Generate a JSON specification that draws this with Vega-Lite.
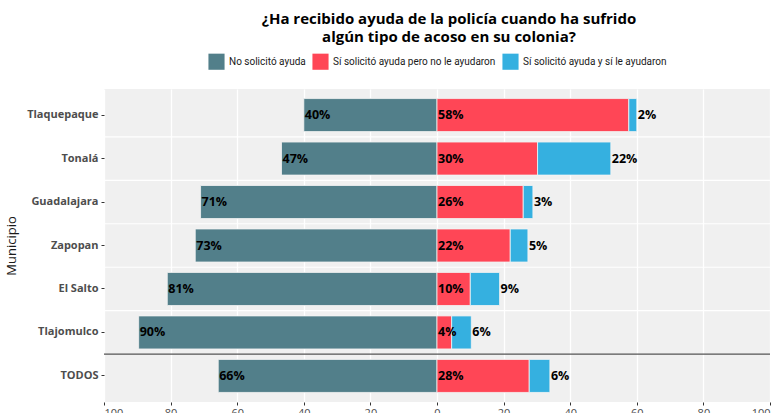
{
  "$schema": "https://vega.github.io/schema/vega-lite/v6.json",
  "autosize": "none",
  "width": 666,
  "height": 313,
  "padding": {"left": 104, "top": 89, "right": 1, "bottom": 11},
  "background": "white",
  "title": {
    "text": ["¿Ha recibido ayuda de la policía cuando ha sufrido", "algún tipo de acoso en su colonia?"],
    "font": "Open Sans",
    "fontSize": 15,
    "fontWeight": "bold",
    "color": "#000000",
    "anchor": "middle",
    "dx": 12,
    "offset": 8,
    "lineHeight": 18.5
  },
  "data": {
    "values": [
      {"municipio": "Tlaquepaque", "respuesta": "No solicitó ayuda", "pct": 40.0},
      {"municipio": "Tlaquepaque", "respuesta": "Sí solicitó ayuda pero no le ayudaron", "pct": 57.6},
      {"municipio": "Tlaquepaque", "respuesta": "Sí solicitó ayuda y sí le ayudaron", "pct": 2.4},
      {"municipio": "Tonalá", "respuesta": "No solicitó ayuda", "pct": 46.7},
      {"municipio": "Tonalá", "respuesta": "Sí solicitó ayuda pero no le ayudaron", "pct": 30.2},
      {"municipio": "Tonalá", "respuesta": "Sí solicitó ayuda y sí le ayudaron", "pct": 22.0},
      {"municipio": "Guadalajara", "respuesta": "No solicitó ayuda", "pct": 71.0},
      {"municipio": "Guadalajara", "respuesta": "Sí solicitó ayuda pero no le ayudaron", "pct": 25.9},
      {"municipio": "Guadalajara", "respuesta": "Sí solicitó ayuda y sí le ayudaron", "pct": 2.9},
      {"municipio": "Zapopan", "respuesta": "No solicitó ayuda", "pct": 72.6},
      {"municipio": "Zapopan", "respuesta": "Sí solicitó ayuda pero no le ayudaron", "pct": 22.0},
      {"municipio": "Zapopan", "respuesta": "Sí solicitó ayuda y sí le ayudaron", "pct": 5.3},
      {"municipio": "El Salto", "respuesta": "No solicitó ayuda", "pct": 81.0},
      {"municipio": "El Salto", "respuesta": "Sí solicitó ayuda pero no le ayudaron", "pct": 10.0},
      {"municipio": "El Salto", "respuesta": "Sí solicitó ayuda y sí le ayudaron", "pct": 8.8},
      {"municipio": "Tlajomulco", "respuesta": "No solicitó ayuda", "pct": 89.6},
      {"municipio": "Tlajomulco", "respuesta": "Sí solicitó ayuda pero no le ayudaron", "pct": 4.4},
      {"municipio": "Tlajomulco", "respuesta": "Sí solicitó ayuda y sí le ayudaron", "pct": 5.9},
      {"municipio": "TODOS", "respuesta": "No solicitó ayuda", "pct": 65.7},
      {"municipio": "TODOS", "respuesta": "Sí solicitó ayuda pero no le ayudaron", "pct": 27.7},
      {"municipio": "TODOS", "respuesta": "Sí solicitó ayuda y sí le ayudaron", "pct": 6.2}
    ]
  },
  "transform": [
    {"calculate": "datum.respuesta === 'No solicitó ayuda' ? -datum.pct : datum.pct", "as": "signed"},
    {"calculate": "indexof(['No solicitó ayuda','Sí solicitó ayuda pero no le ayudaron','Sí solicitó ayuda y sí le ayudaron'], datum.respuesta)", "as": "orden"},
    {"stack": "signed", "groupby": ["municipio"], "sort": [{"field": "orden", "order": "ascending"}], "offset": "zero", "as": ["x0", "x1"]},
    {"calculate": "datum.orden === 1 ? datum.x0 : datum.x1", "as": "label_x"},
    {"calculate": "format(datum.pct, '.0f') + '%'", "as": "label"}
  ],
  "layer": [
    {
      "transform": [{"filter": "datum.orden === 0 && datum.municipio !== 'Tlaquepaque' && datum.municipio !== 'TODOS'"}],
      "mark": {"type": "rule", "color": "#FFFFFF", "strokeWidth": 1.2},
      "encoding": {
        "y": {"field": "municipio", "type": "nominal", "bandPosition": 0,
              "sort": ["Tlaquepaque", "Tonalá", "Guadalajara", "Zapopan", "El Salto", "Tlajomulco", "TODOS"]}
      }
    },
    {
      "mark": {"type": "bar", "height": {"band": 0.76}, "stroke": "#F4F4F4", "strokeWidth": 0.8},
      "encoding": {
        "y": {
          "field": "municipio", "type": "nominal",
          "sort": ["Tlaquepaque", "Tonalá", "Guadalajara", "Zapopan", "El Salto", "Tlajomulco", "TODOS"],
          "scale": {"paddingInner": 0, "paddingOuter": 0.1},
          "axis": {
            "title": "Municipio",
            "titleFont": "Open Sans",
            "titleFontSize": 13,
            "titleFontWeight": "normal",
            "titleColor": "#1A1A1A",
            "titlePadding": 8,
            "labelFont": "Open Sans",
            "labelFontSize": 11,
            "labelFontWeight": "bold",
            "labelColor": "#4D4D4D",
            "labelPadding": 3,
            "domain": false,
            "grid": false,
            "ticks": true,
            "tickSize": 3,
            "tickColor": "#333333"
          }
        },
        "x": {
          "field": "x0", "type": "quantitative",
          "scale": {"domain": [-100, 100], "nice": false},
          "axis": {
            "title": null,
            "values": [-100, -90, -80, -70, -60, -50, -40, -30, -20, -10, 0, 10, 20, 30, 40, 50, 60, 70, 80, 90, 100],
            "labelExpr": "abs(datum.value) % 20 === 0 ? '' + abs(datum.value) : ''",
            "labelFont": "Open Sans",
            "labelFontSize": 11,
            "labelColor": "#4D4D4D",
            "labelPadding": 2,
            "labelOverlap": false,
            "domain": false,
            "tickSize": 3,
            "tickColor": "#333333",
            "tickOpacity": {"condition": {"test": "abs(datum.value) % 20 === 0", "value": 1}, "value": 0},
            "grid": true,
            "gridColor": "#FFFFFF",
            "gridWidth": {"condition": {"test": "abs(datum.value) % 20 === 0", "value": 1.3}, "value": 0.6}
          }
        },
        "x2": {"field": "x1"},
        "color": {
          "field": "respuesta", "type": "nominal",
          "scale": {
            "domain": ["No solicitó ayuda", "Sí solicitó ayuda pero no le ayudaron", "Sí solicitó ayuda y sí le ayudaron"],
            "range": ["#527F8A", "#FF4656", "#35B0E0"]
          },
          "legend": {
            "title": null,
            "orient": "top",
            "direction": "horizontal",
            "symbolType": "square",
            "symbolSize": 260,
            "symbolStrokeWidth": 0,
            "symbolOpacity": 1,
            "labelFont": "Roboto",
            "labelFontSize": 10,
            "labelColor": "#1A1A1A",
            "labelOffset": 4,
            "labelLimit": 0,
            "columnPadding": 6,
            "offset": 19
          }
        }
      }
    },
    {
      "transform": [{"filter": "datum.orden === 0 && datum.municipio === 'TODOS'"}],
      "mark": {"type": "rule", "color": "#555555", "strokeWidth": 1.3},
      "encoding": {
        "y": {"field": "municipio", "type": "nominal", "bandPosition": 0,
              "sort": ["Tlaquepaque", "Tonalá", "Guadalajara", "Zapopan", "El Salto", "Tlajomulco", "TODOS"]}
      }
    },
    {
      "mark": {"type": "text", "align": "left", "baseline": "middle", "dx": 1, "font": "Open Sans", "fontSize": 12.5, "fontWeight": "bold", "color": "#000000"},
      "encoding": {
        "y": {"field": "municipio", "type": "nominal",
              "sort": ["Tlaquepaque", "Tonalá", "Guadalajara", "Zapopan", "El Salto", "Tlajomulco", "TODOS"]},
        "x": {"field": "label_x", "type": "quantitative"},
        "text": {"field": "label"}
      }
    }
  ],
  "config": {
    "view": {"fill": "#F0F0F0", "stroke": null},
    "legend": {"layout": {"top": {"anchor": "middle"}}}
  }
}
